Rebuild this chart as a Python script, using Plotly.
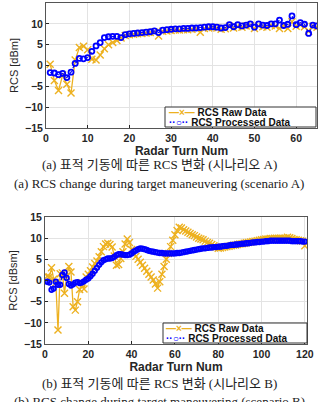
import plotly.graph_objects as go

W, H = 318, 402

# ---------------- data: scenario A ----------------
turn_a = list(range(1, 66))
raw_a = [0.3, -3.6, -6.0, -2.3, -4.5, -6.6, 1.3, 4.3, 4.6, 3.8,
         1.5, 1.3, 2.5, 4.0, 5.0, 5.5, 6.0, 6.6, 7.2, 7.4,
         7.5, 7.6, 7.7, 7.8, 7.9, 8.0, 7.1, 8.2, 8.3, 8.4,
         8.5, 8.5, 8.6, 8.6, 8.7, 8.8, 8.0, 8.9, 9.0, 9.1,
         9.0, 8.7, 8.8, 9.4, 9.0, 9.3, 9.2, 9.5, 9.6, 8.9,
         9.5, 9.3, 9.2, 9.6, 9.5, 8.9, 9.6, 8.9, 10.5, 9.4,
         9.7, 9.3, 8.2, 9.4, 9.2]
proc_a = [-1.7, -1.8, -2.2, -1.9, -2.9, -1.6, 0.5, 1.7, 1.6, 1.9,
          3.4, 4.7, 5.5, 6.7, 6.9, 7.0, 7.0, 6.7, 7.4, 7.6,
          7.7, 7.8, 7.9, 8.0, 8.1, 8.3, 7.9, 8.5, 8.6, 8.7,
          8.8, 8.8, 8.9, 8.9, 9.0, 9.0, 9.1, 9.2, 9.3, 9.3,
          9.2, 9.0, 9.1, 9.8, 9.3, 9.8, 9.5, 9.7, 10.0, 9.2,
          10.0, 9.7, 9.6, 10.0, 10.0, 10.9, 9.6, 9.9, 11.9, 9.8,
          10.3, 9.9, 7.7, 9.7, 9.5]

# ---------------- data: scenario B ----------------
turn_b = list(range(1, 121))
raw_b = [1.0, 0.8, 3.0, 0.3, -0.5, -11.7, 1.6, 1.8, -3.0, 1.0,
         3.3, 2.0, -6.2, -7.0, -5.0, -2.1, -0.5, -2.0, 0.8, 1.5,
         2.3, 3.2, 4.0, 4.6, 5.6, 6.8, 8.0, 8.6, 8.8, 8.5,
         7.9, 5.8, 3.6, 3.8, 5.2, 6.8, 8.6, 9.8, 9.0, 7.3,
         6.4, 5.7, 5.0, 4.3, 3.6, 2.9, 2.2, 1.5, 0.8, 0.1,
         -0.8, -1.8, -0.3, 1.5, 3.3, 5.0, 6.4, 8.0, 9.5, 10.8,
         11.8, 12.6, 12.4, 12.0, 11.7, 11.4, 11.1, 10.8, 10.6, 10.3,
         10.0, 9.8, 9.6, 9.3, 9.0, 8.8, 8.5, 8.2, 7.9, 7.6,
         7.7, 7.8, 7.9, 8.0, 8.1, 8.2, 8.3, 8.4, 8.5, 8.6,
         8.7, 8.8, 8.9, 9.0, 9.1, 9.2, 9.3, 9.4, 9.5, 9.6,
         9.7, 9.8, 9.8, 9.9, 9.9, 10.0, 10.0, 10.0, 10.0, 9.9,
         10.0, 10.2, 10.1, 9.9, 9.7, 9.6, 9.5, 9.4, 9.3, 8.2]
proc_b = [-0.3, -0.5, -2.2, -1.9, -0.3, -1.0, -1.0, 1.3, 1.9, 0.6,
          -0.8, -1.2, -0.9, -0.5, -0.4, -0.6, -0.5, -0.2, 0.2, 0.5,
          1.0, 1.6, 2.3, 3.0, 3.7, 4.3, 4.8, 5.0, 5.2, 5.2,
          5.3, 5.6, 6.0, 6.2, 6.2, 6.1, 6.0, 6.0, 6.1, 6.4,
          6.8, 7.1, 7.4, 7.6, 7.5, 7.4, 7.2, 7.0, 6.9, 6.8,
          6.7, 6.6, 6.5, 6.5, 6.4, 6.4, 6.4, 6.4, 6.4, 6.4,
          6.5, 6.5, 6.6, 6.7, 6.8, 6.9, 7.0, 7.1, 7.2, 7.3,
          7.4, 7.5, 7.6, 7.6, 7.7, 7.8, 7.8, 7.9, 7.9, 8.0,
          8.0, 8.1, 8.2, 8.2, 8.3, 8.4, 8.4, 8.5, 8.5, 8.6,
          8.7, 8.7, 8.8, 8.8, 8.9, 9.0, 9.0, 9.1, 9.1, 9.2,
          9.2, 9.3, 9.3, 9.4, 9.4, 9.4, 9.4, 9.4, 9.4, 9.4,
          9.4, 9.4, 9.4, 9.3, 9.3, 9.3, 9.3, 9.3, 9.2, 9.2]

yticks = [-15, -10, -5, 0, 5, 10, 15]
xticks_a = [0, 10, 20, 30, 40, 50, 60]
xticks_b = [0, 20, 40, 60, 80, 100, 120]
legend_names = ["RCS Raw Data", "RCS Processed Data"]
captions_a = ["(a) 표적 기동에 따른 RCS 변화 (시나리오 A)",
              "(a) RCS change during target maneuvering (scenario A)"]
captions_b = ["(b) 표적 기동에 따른 RCS 변화 (시나리오 B)",
              "(b) RCS change during target maneuvering (scenario B)"]

ORANGE = "#EDB120"
BLUE = "#0000FF"
AXC = "#262626"
SANS = "Liberation Sans, Arial, sans-serif"
SERIF = "Liberation Serif, Times New Roman, Noto Sans CJK KR, serif"


def px(x):
    return x / W


def py(y):
    return 1 - y / H


fig = go.Figure()


def add_series(xs, raw, proc, xa, ya, msize):
    fig.add_trace(go.Scatter(
        x=xs, y=raw, xaxis=xa, yaxis=ya, mode="lines+markers",
        line=dict(color=ORANGE, width=1.3),
        marker=dict(symbol="x-thin", size=7, line=dict(color=ORANGE, width=1.4)),
        showlegend=False, name=legend_names[0]))
    fig.add_trace(go.Scatter(
        x=xs, y=proc, xaxis=xa, yaxis=ya, mode="lines+markers",
        line=dict(color=BLUE, width=1.2, dash="dot"),
        marker=dict(symbol="circle-open", size=msize, line=dict(color=BLUE, width=1.8)),
        showlegend=False, name=legend_names[1]))


add_series(turn_a, raw_a, proc_a, "x", "y", 5)
add_series(turn_b, raw_b, proc_b, "x2", "y2", 4.5)

common_axis = dict(
    showgrid=True, gridcolor="#E3E3E3", gridwidth=1,
    showline=True, linecolor="#555555", linewidth=1, mirror=True,
    ticks="inside", ticklen=3, tickcolor=AXC, zeroline=False,
    tickfont=dict(family=SANS, size=10.5, color=AXC, weight="bold"),
    automargin=False,
)

fig.update_layout(
    width=W, height=H, margin=dict(l=0, r=0, t=0, b=0),
    paper_bgcolor="white", plot_bgcolor="white",
    xaxis=dict(common_axis, domain=[px(46), px(317)], range=[0, 65],
               tickvals=xticks_a, anchor="y",
               title=dict(text="<b>Radar Turn Num</b>", standoff=1,
                          font=dict(family=SANS, size=12, color=AXC))),
    yaxis=dict(common_axis, domain=[py(128), py(3)], range=[-15, 15],
               tickvals=yticks, anchor="x",
               title=dict(text="RCS [dBm]", standoff=4,
                          font=dict(family=SANS, size=11, color=AXC))),
    xaxis2=dict(common_axis, domain=[px(45), px(307)], range=[0, 121],
                tickvals=xticks_b, anchor="y2",
                title=dict(text="<b>Radar Turn Num</b>", standoff=1,
                           font=dict(family=SANS, size=12, color=AXC))),
    yaxis2=dict(common_axis, domain=[py(344), py(217)], range=[-15, 15],
                tickvals=yticks, anchor="x2",
                title=dict(text="RCS [dBsm]", standoff=4,
                           font=dict(family=SANS, size=11, color=AXC))),
)

annotations = []
shapes = []


def add_legend(x0, x1, y0, y1, row1, row2, text_x):
    shapes.append(dict(type="rect", xref="paper", yref="paper",
                       x0=px(x0), x1=px(x1), y0=py(y1), y1=py(y0),
                       line=dict(color="#333333", width=1), fillcolor="white",
                       layer="above"))
    samples = ["<span style='color:%s'>—×—</span>" % ORANGE,
               "<span style='color:%s'>··○··</span>" % BLUE]
    for yy, smp, name in [(row1, samples[0], legend_names[0]),
                          (row2, samples[1], legend_names[1])]:
        annotations.append(dict(
            xref="paper", yref="paper", x=px(text_x), y=py(yy),
            xanchor="left", yanchor="middle", showarrow=False,
            text="<b>" + smp + " " + name + "</b>",
            font=dict(family=SANS, size=10, color="#111111")))


add_legend(165, 316, 107, 127, 112.5, 122.5, 167)
add_legend(163, 307, 323, 343, 328, 338, 164)


def add_caption(lines, ys):
    for t, yy in zip(lines, ys):
        annotations.append(dict(
            xref="paper", yref="paper", x=0.5, y=py(yy),
            xanchor="center", yanchor="middle", showarrow=False,
            text=t, font=dict(family=SERIF, size=13, color="#222222")))


add_caption(captions_a, [165, 183])
add_caption(captions_b, [383, 401])

fig.update_layout(annotations=annotations, shapes=shapes)
fig.write_html("out.html")
